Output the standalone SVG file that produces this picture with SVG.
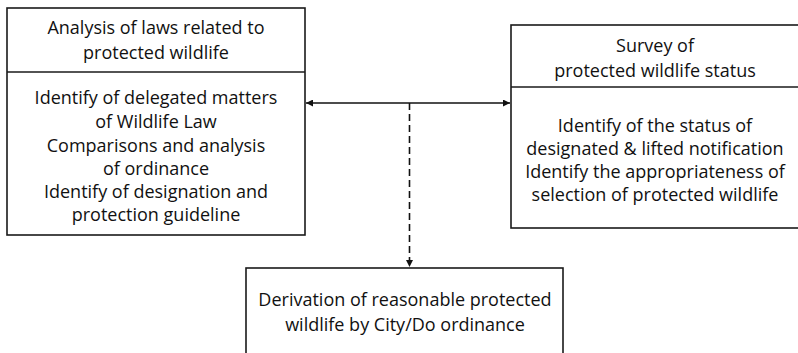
<svg xmlns="http://www.w3.org/2000/svg" width="798" height="353" viewBox="0 0 798 353">
<style>
.box{fill:#fff;stroke:#1a1a1a;stroke-width:1.6}
.div{stroke:#1a1a1a;stroke-width:1.6}
text{font-family:"Open Sans","Noto Sans","Liberation Sans",sans-serif;font-size:18px;fill:#111;text-anchor:middle}
.conn{stroke:#111;stroke-width:1.6;fill:none}
</style>
<defs>
<marker id="ah" viewBox="0 0 10 10" refX="10" refY="5" markerWidth="7" markerHeight="7" markerUnits="userSpaceOnUse" orient="auto-start-reverse">
<path d="M0,0 L10,5 L0,10 z" fill="#111"/>
</marker>
</defs>
<rect width="798" height="353" fill="#fff"/>
<g id="node-laws">
<rect class="box" x="7" y="8" width="298" height="227"/>
<line class="div" x1="7" y1="72" x2="305" y2="72"/>
<text x="156" y="34">Analysis of laws related to</text>
<text x="156" y="59">protected wildlife</text>
<text x="156" y="104">Identify of delegated matters</text>
<text x="156" y="128">of Wildlife Law</text>
<text x="156" y="152">Comparisons and analysis</text>
<text x="156" y="175">of ordinance</text>
<text x="156" y="198">Identify of designation and</text>
<text x="156" y="221">protection guideline</text>
</g>
<g id="node-survey">
<rect class="box" x="511" y="25" width="290" height="203"/>
<line class="div" x1="511" y1="87" x2="801" y2="87"/>
<text x="655" y="52">Survey of</text>
<text x="655" y="77">protected wildlife status</text>
<text x="655" y="132">Identify of the status of</text>
<text x="655" y="155">designated &amp; lifted notification</text>
<text x="655" y="178">Identify the appropriateness of</text>
<text x="655" y="201">selection of protected wildlife</text>
</g>
<g id="node-derivation">
<rect class="box" x="246" y="268" width="317" height="90"/>
<text x="405" y="306">Derivation of reasonable protected</text>
<text x="405" y="331">wildlife by City/Do ordinance</text>
</g>
<g id="connectors">
<line class="conn" x1="306" y1="103" x2="510" y2="103" marker-start="url(#ah)" marker-end="url(#ah)"/>
<line class="conn" x1="409.5" y1="103" x2="409.5" y2="267" stroke-dasharray="7,4" marker-end="url(#ah)"/>
</g>
</svg>
